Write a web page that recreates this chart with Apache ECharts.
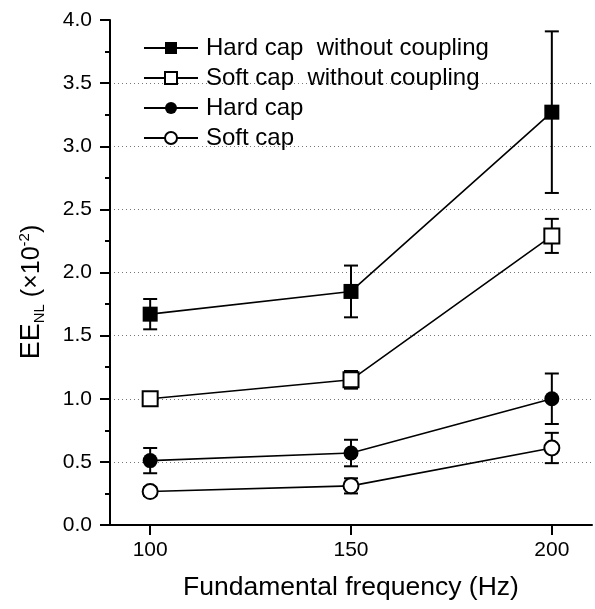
<!DOCTYPE html>
<html>
<head>
<meta charset="utf-8">
<script src="https://cdn.jsdelivr.net/npm/echarts@6/dist/echarts.min.js"></script>
<style>
  html, body { margin: 0; padding: 0; background: #fff; }
  #chart { width: 595px; height: 609px; }
</style>
</head>
<body>
<div id="chart"></div>
<script>
// data
const freqs = [100, 150, 200]
const xTicks = [100, 150, 200]
const names = ['Hard cap  without coupling', 'Soft cap  without coupling', 'Hard cap', 'Soft cap']

const hardNoCoupling = [1.67, 1.85, 3.27]
const hardNoCouplingErr = [0.12, 0.205, 0.64]
const softNoCoupling = [1.0, 1.15, 2.29]
const softNoCouplingErr = [0.03, 0.07, 0.135]
const hardCap = [0.51, 0.57, 1.0]
const hardCapErr = [0.1, 0.105, 0.2]
const softCap = [0.265, 0.31, 0.61]
const softCapErr = [0.035, 0.06, 0.12]

const FONT = '"Liberation Sans", Arial, sans-serif'

const chart = echarts.init(document.getElementById('chart'))

// error bars as custom series
const errorBarSeries = (name, vals, errs) => ({
  name: name,
  type: 'custom',
  z: 2,
  silent: true,
  data: freqs.map((f, i) => [f, vals[i], errs[i]]),
  renderItem: (params, api) => {
    const x = api.value(0)
    const y = api.value(1)
    const e = api.value(2)
    const top = api.coord([x, y + e])
    const bot = api.coord([x, y - e])
    const w = 7
    const style = { stroke: '#000', lineWidth: 2 }
    return {
      type: 'group',
      children: [
        { type: 'line', shape: { x1: top[0], y1: top[1], x2: bot[0], y2: bot[1] }, style: style },
        { type: 'line', shape: { x1: top[0] - w, y1: top[1], x2: top[0] + w, y2: top[1] }, style: style },
        { type: 'line', shape: { x1: bot[0] - w, y1: bot[1], x2: bot[0] + w, y2: bot[1] }, style: style }
      ]
    }
  }
})

const lineSeries = (name, vals, symbol, filled) => ({
  name: name,
  type: 'line',
  z: 3,
  data: freqs.map((f, i) => [f, vals[i]]),
  symbol: symbol,
  symbolSize: 15,
  showAllSymbol: true,
  lineStyle: { color: '#000', width: 1.6 },
  itemStyle: {
    color: filled ? '#000' : '#fff',
    borderColor: '#000',
    borderWidth: filled ? 0 : 2,
    opacity: 1
  },
  emphasis: { disabled: true }
})

const option = {
  animation: false,
  backgroundColor: '#fff',
  grid: { left: 110, right: 3, top: 20, bottom: 84 },
  legend: {
    orient: 'vertical',
    left: 143,
    top: 36,
    padding: 0,
    itemWidth: 54,
    itemHeight: 15,
    itemGap: 6,
    data: names,
    textStyle: { fontSize: 24, fontFamily: FONT, color: '#000', padding: [0, 0, 0, 3] }
  },
  xAxis: {
    type: 'value',
    min: 90,
    max: 210,
    name: 'Fundamental frequency (Hz)',
    nameLocation: 'middle',
    nameGap: 49,
    nameTextStyle: { fontSize: 26.5, fontFamily: FONT, color: '#000' },
    axisLine: { lineStyle: { color: '#000', width: 2 } },
    axisTick: { customValues: xTicks, length: 10, lineStyle: { color: '#000', width: 2 } },
    axisLabel: { customValues: xTicks, fontSize: 21, fontFamily: FONT, color: '#000', margin: 15 },
    splitLine: { show: false }
  },
  yAxis: {
    type: 'value',
    min: 0,
    max: 4,
    interval: 0.5,
    axisLine: { show: true, lineStyle: { color: '#000', width: 2 } },
    axisTick: { show: true, length: 10, lineStyle: { color: '#000', width: 2 } },
    minorTick: { show: true, splitNumber: 2, length: 5, lineStyle: { color: '#000', width: 2 } },
    axisLabel: {
      fontSize: 21, fontFamily: FONT, color: '#000', margin: 18,
      formatter: v => v.toFixed(1)
    },
    splitLine: {
      show: true,
      showMinLine: false,
      showMaxLine: false,
      lineStyle: { color: '#777', width: 1, type: [1, 3] }
    }
  },
  graphic: [
    {
      type: 'text',
      x: 32,
      y: 292,
      rotation: Math.PI / 2,
      style: {
        text: '{a|EE}{s|NL}{b| (×10}{p|-2}{b|)}',
        align: 'center',
        verticalAlign: 'middle',
        fill: '#000',
        rich: {
          a: { fontSize: 27, fontFamily: FONT, lineHeight: 34, verticalAlign: 'middle' },
          s: { fontSize: 15, fontFamily: FONT, lineHeight: 34, verticalAlign: 'bottom', padding: [0, 0, 2, 0] },
          b: { fontSize: 25, fontFamily: FONT, lineHeight: 34, verticalAlign: 'middle' },
          p: { fontSize: 15, fontFamily: FONT, lineHeight: 34, verticalAlign: 'top', padding: [2, 0, 0, 0] }
        }
      }
    }
  ],
  series: [
    errorBarSeries('err1', hardNoCoupling, hardNoCouplingErr),
    errorBarSeries('err2', softNoCoupling, softNoCouplingErr),
    errorBarSeries('err3', hardCap, hardCapErr),
    errorBarSeries('err4', softCap, softCapErr),
    lineSeries(names[0], hardNoCoupling, 'rect', true),
    lineSeries(names[1], softNoCoupling, 'rect', false),
    lineSeries(names[2], hardCap, 'circle', true),
    lineSeries(names[3], softCap, 'circle', false)
  ]
}

chart.setOption(option)
</script>
</body>
</html>
